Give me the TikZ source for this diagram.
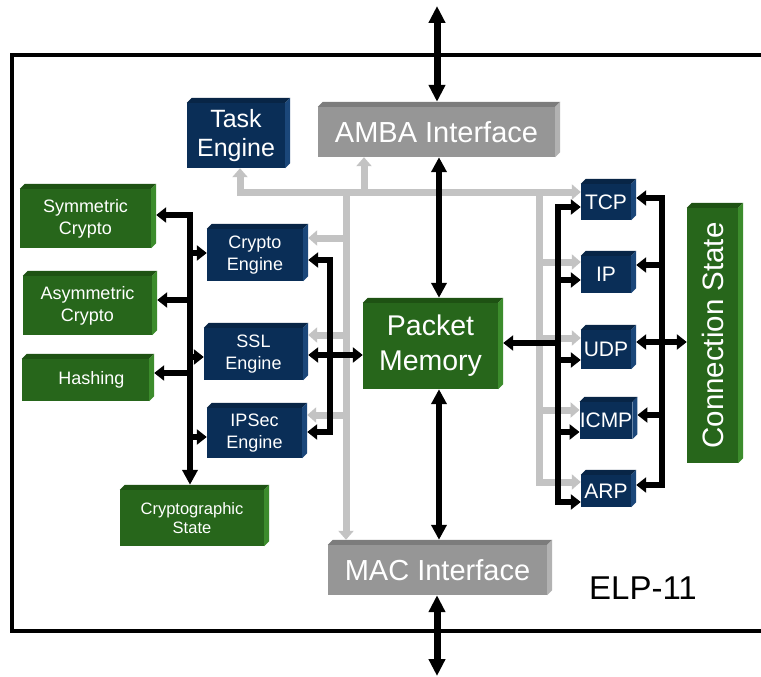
\documentclass[tikz,border=0pt]{standalone}
\usepackage{fontspec}
\setmainfont{Liberation Sans}
\usetikzlibrary{arrows.meta}
\definecolor{bluF}{HTML}{0A2E57}
\definecolor{bluT}{HTML}{082546}
\definecolor{bluS}{HTML}{1B477A}
\definecolor{grnF}{HTML}{27661B}
\definecolor{grnT}{HTML}{1E5213}
\definecolor{grnS}{HTML}{3C8C2C}
\definecolor{gryF}{HTML}{969696}
\definecolor{gryT}{HTML}{7C7C7C}
\definecolor{gryS}{HTML}{B2B2B2}
\definecolor{busgrey}{HTML}{C3C3C3}
\newcommand\fsz[2]{\fontsize{#1}{#2}\selectfont}
% name, position, width, height, colour family, font, text
\newcommand\cbox[7]{%
  \node[fill=#5F, text=white, inner sep=0pt, minimum width=#3, minimum height=#4,
        align=center, font=#6] (#1) at #2 {#7};
  \fill[#5T] (#1.north west) -- ++(5pt,5pt) -- ([shift={(5pt,5pt)}]#1.north east) -- (#1.north east) -- cycle;
  \fill[#5S] (#1.north east) -- ++(5pt,5pt) -- ([shift={(5pt,5pt)}]#1.south east) -- (#1.south east) -- cycle;
  \coordinate (#1R) at ([xshift=5pt]#1.east);
  \coordinate (#1T) at ([yshift=5pt]#1.north);
}
\tikzset{
  BT/.tip={Triangle[width=15pt,length=10pt]},
  VT/.tip={Triangle[width=15pt,length=15pt]},
  ET/.tip={Triangle[width=16pt,length=17pt]},
  GT/.tip={Triangle[width=15pt,length=9pt]},
  blk/.style={line width=6pt, draw=black, line join=miter},
  gline/.style={line width=7pt, draw=busgrey, line join=miter},
  ext/.style={line width=7pt, draw=black},
}
\begin{document}
\begin{tikzpicture}[x=1pt,y=-1pt]
\useasboundingbox (0,0) rectangle (761,677);
\fill[white] (0,0) rectangle (761,677);
% frame
\draw[line width=4pt] (761,55) -- (12,55) -- (12,631) -- (761,631);

% boxes
\cbox{task}{(236,135.5)}{98pt}{65pt}{blu}{\fsz{25}{29}}{Task\\Engine}
\cbox{amba}{(436.5,132)}{237pt}{50pt}{gry}{\fsz{29}{33}}{AMBA Interface}
\cbox{sym}{(85.5,218.5)}{131pt}{59pt}{grn}{\fsz{18}{22}}{Symmetric\\Crypto}
\cbox{asy}{(87.5,305.5)}{129pt}{59pt}{grn}{\fsz{18}{22}}{Asymmetric\\Crypto}
\cbox{has}{(85.5,380)}{127pt}{42pt}{grn}{\fsz{18}{22}}{\hspace*{12pt}Hashing}
\cbox{cre}{(255,255)}{96pt}{52pt}{blu}{\fsz{18}{22}}{Crypto\\Engine}
\cbox{ssl}{(253.5,354)}{99pt}{52pt}{blu}{\fsz{18}{22}}{SSL\\Engine}
\cbox{ips}{(254.5,433)}{95pt}{50pt}{blu}{\fsz{18}{22}}{IPSec\\Engine}
\cbox{cst}{(192,518)}{144pt}{56pt}{grn}{\fsz{16.5}{19.5}}{Cryptographic\\State}
\cbox{pm}{(430.5,346)}{135pt}{86pt}{grn}{\fsz{28.5}{35}}{Packet\\Memory}
\cbox{mac}{(437.5,570)}{219pt}{50pt}{gry}{\fsz{29}{33}}{MAC Interface}
\cbox{tcp}{(606,202)}{50pt}{36pt}{blu}{\fsz{21}{24}}{TCP}
\cbox{ip}{(606,274.5)}{50pt}{37pt}{blu}{\fsz{21}{24}}{IP}
\cbox{udp}{(606,349.5)}{50pt}{39pt}{blu}{\fsz{21}{24}}{UDP}
\cbox{icmp}{(606,420.5)}{50pt}{37pt}{blu}{\fsz{21}{24}}{ICMP}
\cbox{arp}{(606,491)}{50pt}{32pt}{blu}{\fsz{21}{24}}{ARP}
\cbox{con}{(712.5,335.5)}{51pt}{255pt}{grn}{\fsz{29.5}{34}}{\rotatebox{90}{Connection State}}
\node[font=\fsz{33}{37}] (elp) at (643,588) {ELP-11};

% grey buses
\draw[gline, GT-GT] (task.south -| 240,0) -- (240,192) -- (tcp.west |- 0,192);
\draw[gline, -GT] (364,192) -- (amba.south -| 364,0);
\draw[gline, -GT] (346,192) -- (macT -| 346,0);
\draw[gline, -GT] (346,238) -- (creR |- 0,238);
\draw[gline, -GT] (346,335) -- (sslR |- 0,335);
\draw[gline, -GT] (346,415) -- (ipsR |- 0,415);
\draw[gline, -GT] (539,192) -- (539,482) -- (arp.west |- 0,482);
\draw[gline, -GT] (539,262) -- (ip.west |- 0,262);
\draw[gline, -GT] (539,338) -- (udp.west |- 0,338);
\draw[gline, -GT] (539,410) -- (icmp.west |- 0,410);

% black buses, left
\coordinate (lb) at (190,215);
\draw[blk, BT-VT] (symR |- lb) -- (lb) -- (lb |- cstT);
\draw[blk, -BT] (lb |- 0,300) -- (asyR |- 0,300);
\draw[blk, -BT] (lb |- 0,373) -- (hasR |- 0,373);
\draw[blk, -BT] (lb |- 0,253) -- (cre.west |- 0,253);
\draw[blk, -BT] (lb |- 0,357) -- (ssl.west |- 0,357);
\draw[blk, -BT] (lb |- 0,437) -- (ips.west |- 0,437);
% engines to packet memory
\draw[blk, BT-BT] (creR |- 0,260) -- (330,260) -- (330,432) -- (ipsR |- 0,432);
\draw[blk, BT-BT] (sslR |- 0,355) -- (pm.west |- 0,355);
% vertical
\coordinate (vx) at (439,0);
\draw[blk, VT-VT] (amba.south -| vx) -- (pmT -| vx);
\draw[blk, VT-VT] (pm.south -| vx) -- (macT -| vx);
\coordinate (topend) at (437,6);
\coordinate (botend) at (437,676);
\draw[ext, ET-ET] (topend) -- (ambaT -| topend);
\draw[ext, ET-ET] (mac.south -| botend) -- (botend);
% right
\draw[blk, BT-BT] (tcp.west |- 0,207) -- (558,207) -- (558,502) -- (arp.west |- 0,502);
\draw[blk, -BT] (558,280) -- (ip.west |- 0,280);
\draw[blk, -BT] (558,360) -- (udp.west |- 0,360);
\draw[blk, -BT] (558,432) -- (icmp.west |- 0,432);
\draw[blk, -BT] (558,343) -- (pmR |- 0,343);
\draw[blk, BT-BT] (tcpR |- 0,198) -- (662,198) -- (662,485) -- (arpR |- 0,485);
\draw[blk, -BT] (662,265) -- (ipR |- 0,265);
\draw[blk, -BT] (662,415) -- (icmpR |- 0,415);
\draw[blk, BT-BT] (udpR |- 0,342) -- (con.west |- 0,342);
\end{tikzpicture}
\end{document}
